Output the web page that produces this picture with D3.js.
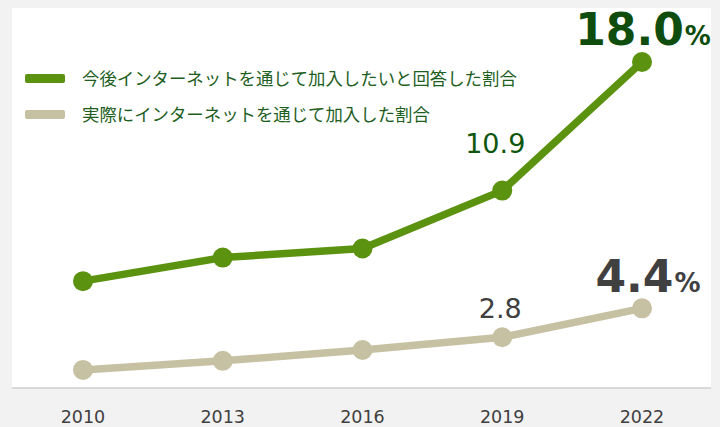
<!DOCTYPE html>
<html>
<head>
<meta charset="utf-8">
<script src="https://cdn.jsdelivr.net/npm/d3@7"></script>
<style>
  html, body { margin: 0; padding: 0; background: #f2f2f2; }
  svg { display: block; }
</style>
</head>
<body>
<div id="chart"></div>
<script>
// chart data
const years = ['2010', '2013', '2016', '2019', '2022'];
const intendValues = [5.9, 7.2, 7.7, 10.9, 18.0];   // 今後インターネットを通じて加入したいと回答した割合
const actualValues = [1.0, 1.5, 2.1, 2.8, 4.4];     // 実際にインターネットを通じて加入した割合
const seriesNames = ['今後インターネットを通じて加入したいと回答した割合', '実際にインターネットを通じて加入した割合'];

const width = 720, height = 427;
const green = '#5b9210', beige = '#c6c1a3';

const svg = d3.select('#chart').append('svg')
    .attr('width', width)
    .attr('height', height);

// plot panel
svg.append('rect')
    .attr('x', 12).attr('y', 8)
    .attr('width', 699).attr('height', 380)
    .attr('fill', '#ffffff');

const x = d3.scalePoint()
    .domain(years)
    .range([83, 642]);

const y = d3.scaleLinear()
    .domain([0, 18])
    .range([388, 62]);

// baseline
svg.append('line')
    .attr('x1', 12).attr('x2', 711)
    .attr('y1', 388).attr('y2', 388)
    .attr('stroke', '#d9d9d9')
    .attr('stroke-width', 2);

// x axis labels
svg.append('g')
    .selectAll('text')
    .data(years)
    .join('text')
    .attr('x', d => x(d))
    .attr('y', 423)
    .attr('text-anchor', 'middle')
    .style('font-family', 'DejaVu Sans, sans-serif')
    .style('font-size', '17.5px')
    .style('fill', '#404040')
    .text(d => d);

// draw a series as line + markers
function drawSeries(values, color) {
    const pts = years.map((yr, i) => ({ year: yr, value: values[i] }));
    const line = d3.line()
        .x(d => x(d.year))
        .y(d => y(d.value));

    svg.append('path')
        .datum(pts)
        .attr('d', line)
        .attr('fill', 'none')
        .attr('stroke', color)
        .attr('stroke-width', 7.5)
        .attr('stroke-linejoin', 'round');

    svg.append('g')
        .selectAll('circle')
        .data(pts)
        .join('circle')
        .attr('cx', d => x(d.year))
        .attr('cy', d => y(d.value))
        .attr('r', 10)
        .attr('fill', color);
}

drawSeries(actualValues, beige);
drawSeries(intendValues, green);

// value labels
const fmt = d3.format('.1f');

// 2019 labels (regular)
svg.append('text')
    .attr('x', x('2019') - 7)
    .attr('y', y(intendValues[3]) - 38)
    .attr('text-anchor', 'middle')
    .style('font-family', 'DejaVu Sans, sans-serif')
    .style('font-size', '27px')
    .style('fill', '#0e560e')
    .text(fmt(intendValues[3]));

svg.append('text')
    .attr('x', x('2019') - 2)
    .attr('y', y(actualValues[3]) - 19)
    .attr('text-anchor', 'middle')
    .style('font-family', 'DejaVu Sans, sans-serif')
    .style('font-size', '27px')
    .style('fill', '#404040')
    .text(fmt(actualValues[3]));

// 2022 labels (bold with %)
function bigLabel(value, color, xOff, yOff) {
    const t = svg.append('text')
        .attr('x', x('2022') + xOff)
        .attr('y', y(value) + yOff)
        .attr('text-anchor', 'middle')
        .style('font-family', 'DejaVu Sans, sans-serif')
        .style('font-weight', 'bold')
        .style('fill', color);
    t.append('tspan')
        .style('font-size', '44px')
        .text(fmt(value));
    t.append('tspan')
        .attr('dx', 1)
        .style('font-size', '26px')
        .text('%');
}
bigLabel(intendValues[4], '#0e4d0e', 1, -17);
bigLabel(actualValues[4], '#404040', 6, -16);

// legend
const legend = svg.append('g');
const legendColors = [green, beige];
const legendY = [78.5, 114.5];
seriesNames.forEach((name, i) => {
    legend.append('rect')
        .attr('x', 25).attr('y', legendY[i] - 4.5)
        .attr('width', 40).attr('height', 9)
        .attr('rx', 2)
        .attr('fill', legendColors[i]);
    legend.append('text')
        .attr('x', 82)
        .attr('y', legendY[i])
        .attr('dy', '0.36em')
        .style('font-family', '"Noto Sans CJK JP", sans-serif')
        .style('font-size', '17.4px')
        .style('fill', '#1e5e1e')
        .text(name);
});
</script>
</body>
</html>
